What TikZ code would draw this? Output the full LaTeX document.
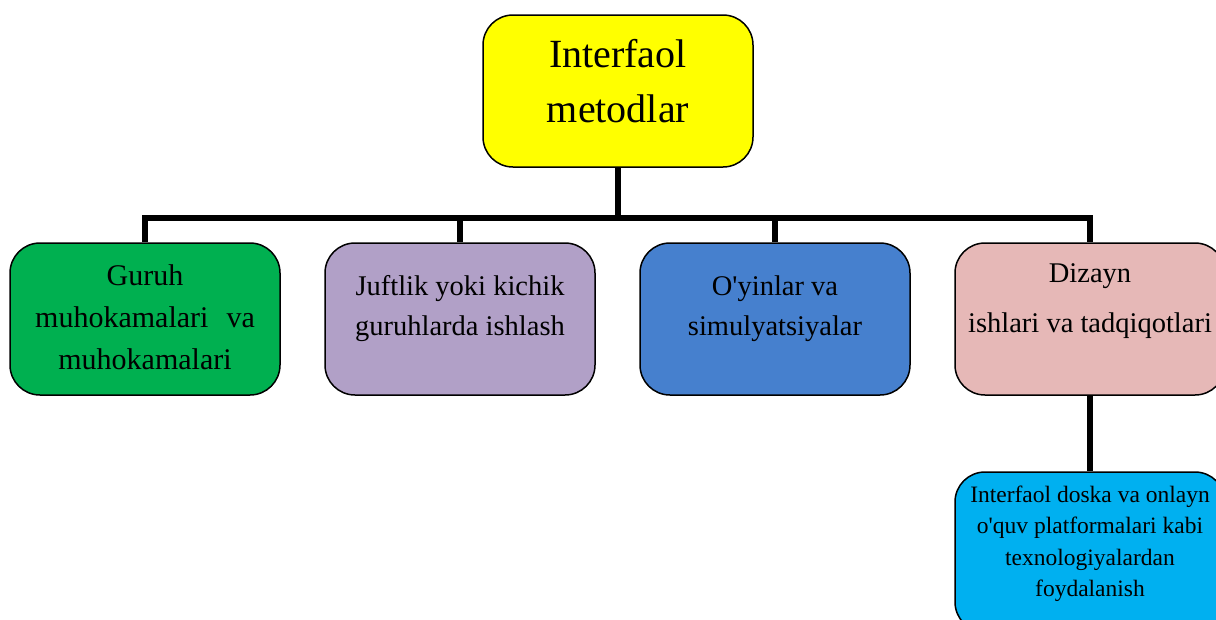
\documentclass[tikz,border=0pt]{standalone}
\usepackage{fontspec}
\setmainfont{Liberation Serif}
\definecolor{cyel}{HTML}{FFFF00}
\definecolor{cgreen}{HTML}{00B050}
\definecolor{cpurple}{HTML}{B1A0C7}
\definecolor{cblue}{HTML}{4680CE}
\definecolor{cpink}{HTML}{E6B8B7}
\definecolor{ccyan}{HTML}{00B0F0}
\tikzset{
  boxnode/.style={draw=black, line width=1.5pt, rounded corners=30pt, inner sep=0pt,
    minimum width=270pt, minimum height=152pt},
  conn/.style={draw=black, line width=5.5pt},
  txt/.style={align=center, inner sep=0pt, font=\fontsize{28.5}{40}\selectfont},
}
\begin{document}
\begin{tikzpicture}[x=1pt,y=-1pt]
\useasboundingbox (0,0) rectangle (1216,619);
\node[boxnode, fill=cyel] (top) at (618,91) {};
\node[boxnode, fill=cgreen] (g) at (145,319) {};
\node[boxnode, fill=cpurple] (p) at (460,319) {};
\node[boxnode, fill=cblue] (b) at (775,319) {};
\node[boxnode, fill=cpink] (k) at (1090,319) {};
\node[boxnode, fill=ccyan, minimum height=160pt] (c) at (1090,552) {};
\coordinate (j) at (618,218);
\node[txt, font=\fontsize{40}{55}\selectfont] (toptxt) at (618,81) {Interfaol\\metodlar};
\node[txt, font=\fontsize{30}{42}\selectfont] (gtxt) at (145,317) {Guruh\\muhokamalari\hspace{0.6em}va\\muhokamalari};
\node[txt] (ptxt) at (460,309) {Juftlik yoki kichik\\guruhlarda ishlash};
\node[txt] (btxt) at (775,309) {O\textquotesingle yinlar va\\simulyatsiyalar};
\node[txt] (ktxt) at (1090,301) {Dizayn\\[10pt]ishlari va tadqiqotlari};
\node[txt, font=\fontsize{23.5}{31.5}\selectfont] (ctxt) at (1090,544) {Interfaol doska va onlayn\\o\textquotesingle quv platformalari kabi\\texnologiyalardan\\foydalanish};
\draw[conn] (top.south) -- (j);
\draw[conn] (g.north) |- (j) -| (k.north);
\draw[conn] (p.north) -- (p.north |- j);
\draw[conn] (b.north) -- (b.north |- j);
\draw[conn] (k.south) -- (c.north);
\end{tikzpicture}
\end{document}
